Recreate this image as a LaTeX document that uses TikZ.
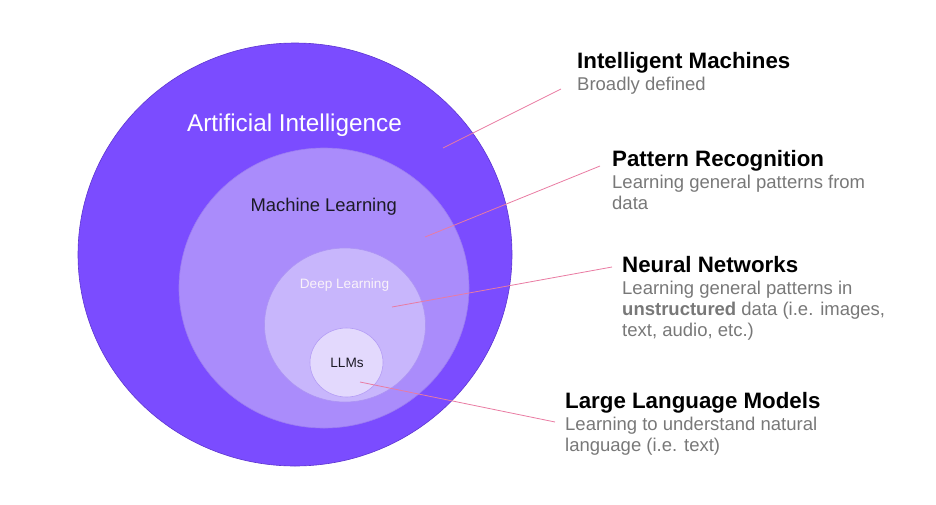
\documentclass[tikz,border=0pt]{standalone}
\usepackage{fontspec}
\setmainfont{Liberation Sans}
\usetikzlibrary{shapes.geometric}
\definecolor{aiviolet}{HTML}{7B4CFF}
\definecolor{aiedge}{HTML}{5E36D0}
\definecolor{mlviolet}{HTML}{AA8CFB}
\definecolor{mledge}{HTML}{9C7CF2}
\definecolor{dlviolet}{HTML}{C8B6FC}
\definecolor{dledge}{HTML}{AD94F4}
\definecolor{llmviolet}{HTML}{E3D9FD}
\definecolor{llmedge}{HTML}{B49DF5}
\definecolor{leaderpink}{HTML}{E97BA2}
\definecolor{notegrey}{HTML}{787878}
\definecolor{inkdark}{HTML}{1C1A26}

\begin{document}
\begin{tikzpicture}[
    x=1pt, y=-1pt,
    set/.style={ellipse, draw=#1, line width=0.6pt, inner sep=0pt},
    setlabel/.style={anchor=base, inner sep=0pt},
    heading/.style={anchor=base west, inner sep=0pt, text=black,
      font=\fontsize{22.3}{26}\selectfont\bfseries},
    note/.style={anchor=base west, inner sep=0pt, align=left, text=notegrey,
      font=\fontsize{18.5}{21}\selectfont},
    leader/.style={draw=leaderpink, line width=0.8pt}
  ]
    \useasboundingbox (0,0) rectangle (936,504);

    % nested sets
    \node[set=aiedge, fill=aiviolet, minimum width=434pt, minimum height=423pt] (ai) at (295,254.5) {};
    \node[set=mledge, fill=mlviolet, minimum width=290pt, minimum height=280pt] (ml) at (324,288) {};
    \node[set=dledge, fill=dlviolet, minimum width=161pt, minimum height=154pt] (dl) at (345,325) {};
    \node[set=llmedge, fill=llmviolet, minimum width=73pt, minimum height=69pt] (llm) at (346.5,362.5) {};

    \node[setlabel, text=white, font=\fontsize{24.3}{28}\selectfont] (ailabel) at (294.5,131.7) {Artificial Intelligence};
    \node[setlabel, text=inkdark, font=\fontsize{18.4}{22}\selectfont] (mllabel) at (323.7,211) {Machine Learning};
    \node[setlabel, text=white!95!violet, font=\fontsize{13.6}{16}\selectfont] (dllabel) at (344.5,288) {Deep Learning};
    \node[setlabel, text=inkdark, font=\fontsize{13.6}{16}\selectfont] (llmlabel) at (347,367.7) {LLMs};

    % descriptions (base of a note = its last line)
    \node[heading] (imhead) at (577,68) {Intelligent Machines};
    \node[note] (imnote) at ([yshift=-22pt]imhead.base west) {Broadly defined};

    \node[heading] (prhead) at (612,166) {Pattern Recognition};
    \node[note] (prnote) at ([yshift=-43pt]prhead.base west) {Learning general patterns from\\data};

    \node[heading] (nnhead) at (622,272) {Neural Networks};
    \node[note] (nnnote) at ([yshift=-64pt]nnhead.base west) {Learning general patterns in\\\textbf{unstructured} data (i.e. images,\\text, audio, etc.)};

    \node[heading] (lmhead) at (565,408) {Large Language Models};
    \node[note] (lmnote) at ([yshift=-43pt]lmhead.base west) {Learning to understand natural\\language (i.e. text)};

    % leader lines
    \coordinate (aipt) at (443,148);
    \coordinate (impt) at (561,89);
    \coordinate (mlpt) at (425,237);
    \coordinate (prpt) at (600,166);
    \coordinate (dlpt) at (392,307);
    \coordinate (nnpt) at (612,267);
    \coordinate (llmpt) at (360,382);
    \coordinate (lmpt) at (555,422);

    \draw[leader] (aipt) -- (impt);
    \draw[leader] (mlpt) -- (prpt);
    \draw[leader] (dlpt) -- (nnpt);
    \draw[leader] (llmpt) -- (lmpt);
  \end{tikzpicture}
\end{document}
